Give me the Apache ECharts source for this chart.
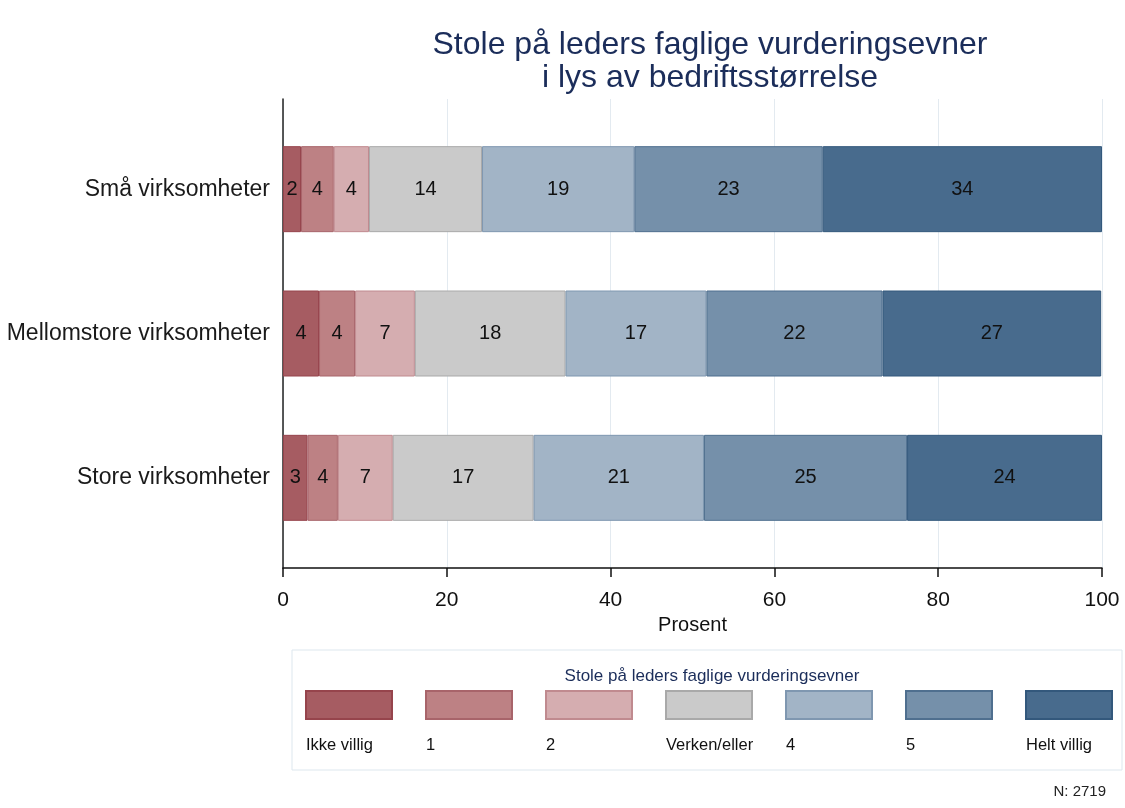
<!DOCTYPE html>
<html>
<head>
<meta charset="utf-8">
<script src="https://cdn.jsdelivr.net/npm/echarts@6/dist/echarts.min.js"></script>
<style>html,body{margin:0;padding:0;background:#fff}#chart{width:1125px;height:808px}</style>
</head>
<body>
<div id="chart"></div>
<script>
const categories = ['Små virksomheter', 'Mellomstore virksomheter', 'Store virksomheter'];
const seriesNames = ['Ikke villig', '1', '2', 'Verken/eller', '4', '5', 'Helt villig'];
const ikkeVillig = [2.2, 4.4, 3.0];
const v1 = [4.0, 4.4, 3.7];
const v2 = [4.3, 7.3, 6.7];
const verken = [13.8, 18.4, 17.2];
const v4 = [18.6, 17.2, 20.8];
const v5 = [23.0, 21.5, 24.8];
const heltVillig = [34.1, 26.7, 23.8];
const xTicks = [0, 20, 40, 60, 80, 100];

const seriesValues = [ikkeVillig, v1, v2, verken, v4, v5, heltVillig];
const fills = ['#a65c62', '#bd8184', '#d5adb0', '#cacaca', '#a2b4c6', '#7590aa', '#486b8d'];
const borders = ['#96444c', '#a8646a', '#c08a8f', '#a9a9a9', '#7f97b0', '#4f6f8f', '#33587c'];
const FONT = 'Liberation Sans, Arial, sans-serif';

const chart = echarts.init(document.getElementById('chart'), null, {renderer: 'canvas'});

const series = seriesNames.map((name, i) => ({
  name: name,
  type: 'bar',
  stack: 'total',
  xAxisIndex: 0,
  yAxisIndex: 0,
  barWidth: 86,
  data: seriesValues[i],
  itemStyle: {color: fills[i], borderColor: borders[i], borderWidth: 1},
  label: {
    show: true,
    position: 'inside',
    color: '#111',
    fontSize: 20,
    fontFamily: FONT,
    formatter: p => Math.round(p.value)
  },
  emphasis: {disabled: true}
}));

// Legend swatches (one legend with the box) + one label legend per entry placed under each swatch
const legendSwatchLeft = 305, legendStep = 120;
const labelLegends = seriesNames.map((name, i) => ({
  data: [name],
  left: legendSwatchLeft + i * legendStep - 6,
  top: 737,
  padding: 0,
  icon: 'rect',
  itemWidth: 1, itemHeight: 1,
  itemStyle: {opacity: 0},
  selectedMode: false,
  textStyle: {fontSize: 16.5, color: '#111', fontFamily: FONT}
}));

chart.setOption({
  animation: false,
  backgroundColor: '#fff',
  title: [
    {
      text: 'Stole på leders faglige vurderingsevner\ni lys av bedriftsstørrelse',
      left: 705, top: 24, textAlign: 'center',
      textStyle: {fontSize: 32, fontWeight: 'normal', color: '#1b2d5a', fontFamily: FONT, lineHeight: 33}
    },
    {
      text: 'Stole på leders faglige vurderingsevner',
      left: 707, top: 663, textAlign: 'center',
      textStyle: {fontSize: 17, fontWeight: 'normal', color: '#1b2d5a', fontFamily: FONT}
    },
    {
      text: 'N: 2719',
      right: 14, top: 779,
      textStyle: {fontSize: 15, fontWeight: 'normal', color: '#222', fontFamily: FONT}
    }
  ],
  legend: [
    {
      data: seriesNames,
      left: 292, top: 650,
      padding: [40, 9, 50, 13],
      borderColor: '#dde7ee', borderWidth: 1,
      icon: 'rect',
      itemWidth: 86, itemHeight: 28, itemGap: 32,
      selectedMode: false,
      formatter: () => '',
      textStyle: {fontSize: 1}
    }
  ].concat(labelLegends),
  grid: [
    {left: 283, right: 23, top: 117, height: 433, containLabel: false},
    {left: 283, right: 23, top: 99, bottom: 240, containLabel: false}
  ],
  xAxis: [
    {
      type: 'value', gridIndex: 0, min: 0, max: 100,
      show: false
    },
    {
      type: 'value', gridIndex: 1, min: xTicks[0], max: xTicks[xTicks.length - 1], interval: 20,
      axisLine: {show: true, lineStyle: {color: '#111', width: 1.5}},
      axisTick: {show: true, length: 9, lineStyle: {color: '#111', width: 1.5}},
      axisLabel: {fontSize: 21, color: '#111', fontFamily: FONT, margin: 22},
      splitLine: {show: true, lineStyle: {color: '#e3eaf0', width: 1}},
      name: 'Prosent', nameLocation: 'middle', nameGap: 44,
      nameTextStyle: {fontSize: 20, color: '#111', fontFamily: FONT}
    }
  ],
  yAxis: [
    {
      type: 'category', gridIndex: 0, data: categories, inverse: true,
      axisLine: {show: false}, axisTick: {show: false},
      axisLabel: {fontSize: 23, color: '#1a1a1a', fontFamily: FONT, margin: 13},
      splitLine: {show: false}
    },
    {
      type: 'value', gridIndex: 1, min: 0, max: 1,
      axisLine: {show: true, lineStyle: {color: '#222', width: 1.5}},
      axisTick: {show: false}, axisLabel: {show: false}, splitLine: {show: false}
    }
  ],
  series: series
});
</script>
</body>
</html>
